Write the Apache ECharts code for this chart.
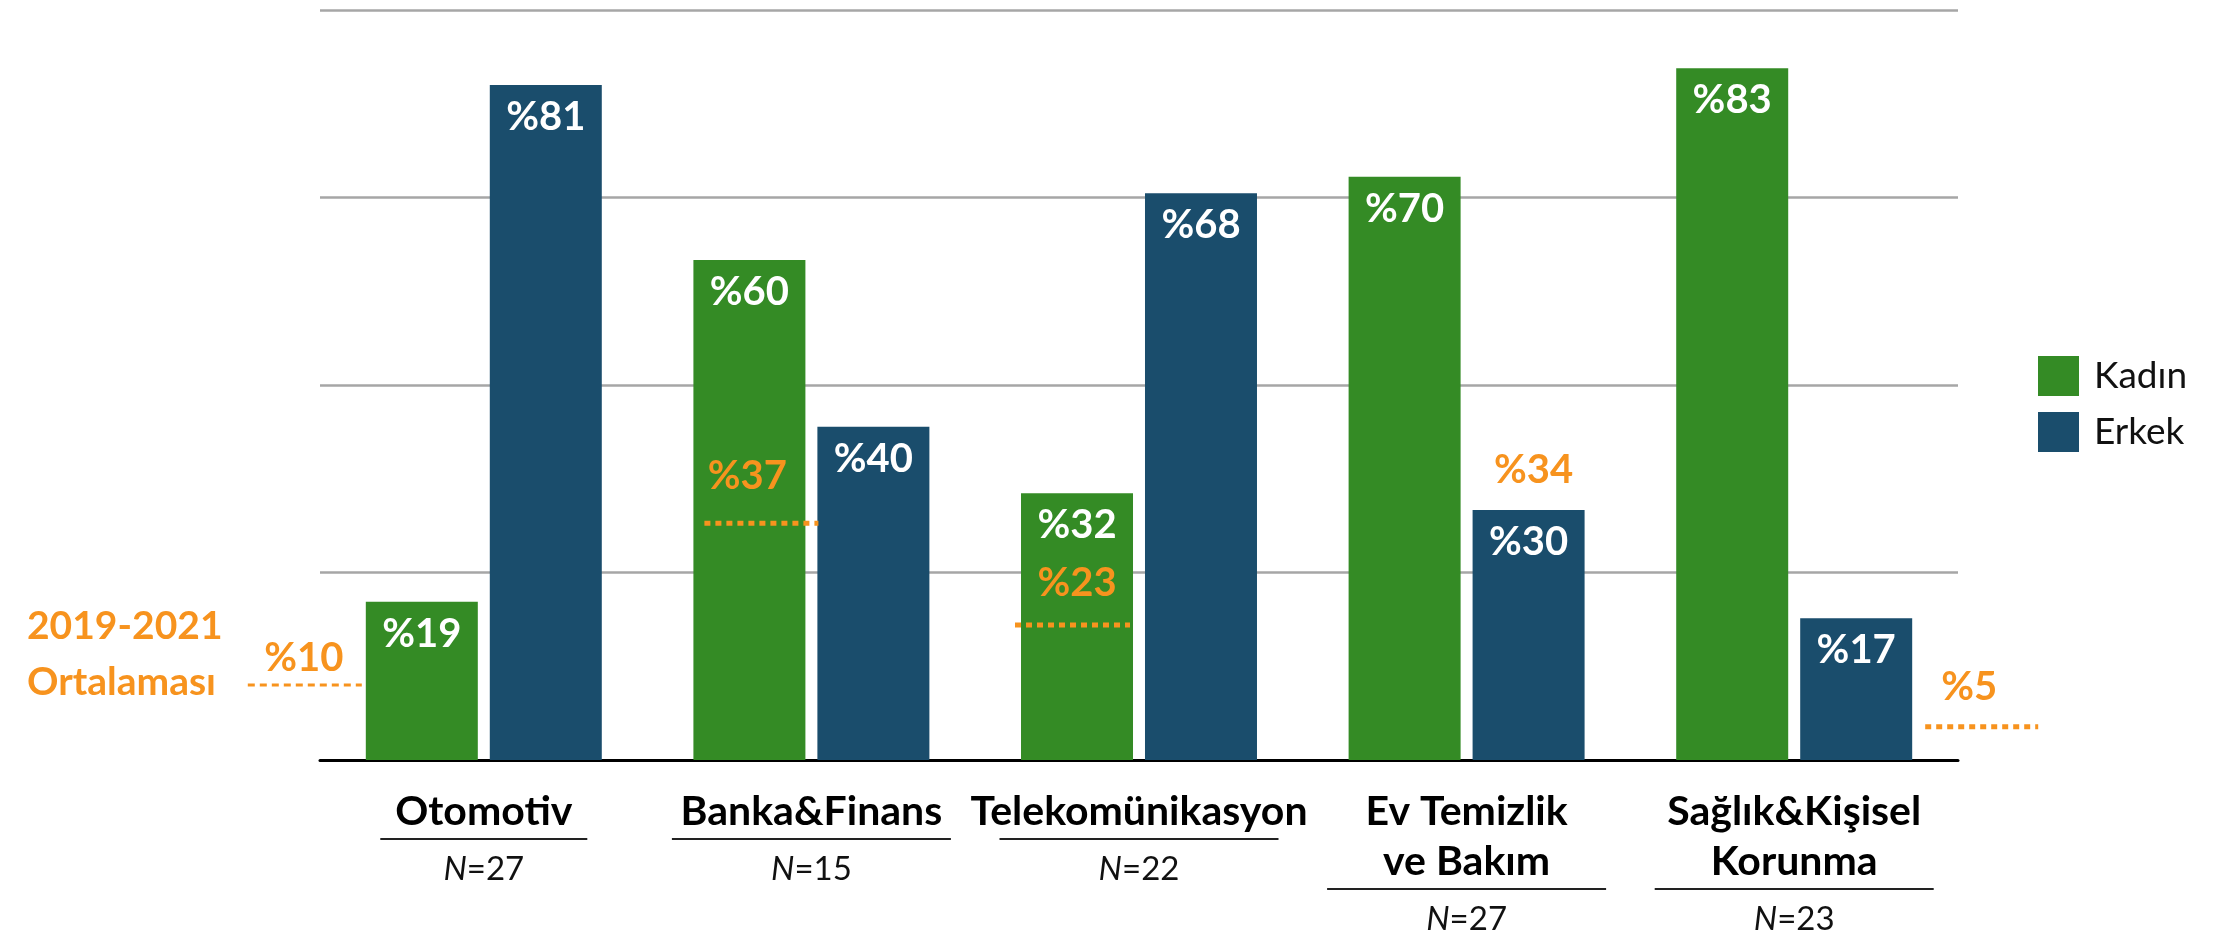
<!DOCTYPE html>
<html><head><meta charset="utf-8">
<script src="https://cdn.jsdelivr.net/npm/echarts@6/dist/echarts.min.js"></script>
<style>html,body{margin:0;padding:0;background:#fff}#c{width:2222px;height:937px}</style>
</head><body><div id="c"></div>
<script>
// ---------- data ----------
const categories = ['Otomotiv', 'Banka&Finans', 'Telekomünikasyon', 'Ev Temizlik\nve Bakım', 'Sağlık&Kişisel\nKorunma'];
const sampleN = [27, 15, 22, 27, 23];
const seriesNames = ['Kadın', 'Erkek'];
const kadin = [19, 60, 32, 70, 83];
const erkek = [81, 40, 68, 30, 17];
const avgTitle = '2019-2021\nOrtalaması';
const avgValues = [10, 37, 23, 34, 5];
// level (axis units) at which each average marker is drawn in the reference
const avgLevel = [9.0, 28.4, 16.2, 30, 4.0];
const avgHasLine = [true, true, true, false, true];

// ---------- layout / style ----------
const GREEN = '#348B25', BLUE = '#1A4D6C', ORANGE = '#F7931E';
const FONT = 'Lato';
const avgLayout = [
  { x0: -236, x1: -122, lx: -180, ly: 27, w: 3, dash: [7, 5] },
  { x0: -107, x1: 7, lx: -64, ly: 47, w: 5, dash: [6, 5] },
  { x0: -124, x1: -9, lx: -62, ly: 42, w: 5, dash: [6, 5] },
  { x0: 0, x1: 0, lx: 67, ly: 40, w: 5, dash: [6, 5] },
  { x0: 131, x1: 244, lx: 175, ly: 40, w: 5, dash: [6, 5] }
];
const underlineWidth = [207, 279, 279, 279, 279];

const chart = echarts.init(document.getElementById('c'), null, { renderer: 'canvas' });

const ulStyles = {};
underlineWidth.forEach((w, i) => {
  ulStyles['ul' + i] = { width: w, height: 2, lineHeight: 4, fontSize: 2, backgroundColor: '#222', align: 'center' };
});

chart.setOption({
  backgroundColor: '#fff',
  animation: false,
  title: {
    text: avgTitle, left: 22, top: 593,
    textStyle: { color: ORANGE, fontFamily: FONT, fontWeight: 'bold', fontSize: 39, lineHeight: 56 }
  },
  legend: {
    data: seriesNames, orient: 'vertical', left: 2033, top: 351,
    icon: 'rect', itemWidth: 41, itemHeight: 40, itemGap: 16,
    textStyle: { fontFamily: FONT, fontSize: 37, color: '#111', padding: [0, 0, 0, 10] }
  },
  grid: { left: 320, right: 2222 - 1958, top: 10, bottom: 937 - 760, containLabel: false },
  xAxis: {
    type: 'category', data: categories,
    axisLine: { lineStyle: { color: '#000', width: 3 } },
    axisTick: { show: false },
    axisLabel: {
      interval: 0, margin: 27, hideOverlap: false,
      formatter: function (v, i) {
        const lines = v.split('\n').map(s => '{cat|' + s + '}').join('\n');
        return lines + '\n{ul' + i + '| }\n{ni|N}{nv|=' + sampleN[i] + '}';
      },
      rich: Object.assign({
        cat: { fontFamily: FONT, fontWeight: 'bold', fontSize: 41, color: '#000', lineHeight: 50, align: 'center' },
        ni: { fontFamily: FONT, fontStyle: 'italic', fontSize: 33, color: '#111', lineHeight: 56 },
        nv: { fontFamily: FONT, fontSize: 33, color: '#111', lineHeight: 56 }
      }, ulStyles)
    }
  },
  yAxis: {
    type: 'value', min: 0, max: 90, interval: 22.5,
    axisLine: { show: false }, axisTick: { show: false }, axisLabel: { show: false },
    splitLine: { lineStyle: { color: '#A6A6A6', width: 2.5 } }
  },
  series: [
    {
      name: seriesNames[0], type: 'bar', data: kadin, barWidth: 112, barGap: '10.7%',
      itemStyle: { color: GREEN },
      label: { show: true, position: 'insideTop', distance: 12, color: '#fff', fontFamily: FONT, fontWeight: 'bold', fontSize: 40, formatter: p => '%' + p.value }
    },
    {
      name: seriesNames[1], type: 'bar', data: erkek, barWidth: 112, barGap: '10.7%',
      itemStyle: { color: BLUE },
      label: { show: true, position: 'insideTop', distance: 12, color: '#fff', fontFamily: FONT, fontWeight: 'bold', fontSize: 40, formatter: p => '%' + p.value }
    },
    {
      name: 'avg', type: 'custom', clip: false, z: 10,
      data: categories.map((c, i) => [i, avgLevel[i]]),
      renderItem: function (params, api) {
        const i = params.dataIndex;
        const p = api.coord([api.value(0), api.value(1)]);
        const L = avgLayout[i];
        const children = [];
        if (avgHasLine[i]) {
          children.push({ type: 'line', shape: { x1: p[0] + L.x0, y1: p[1], x2: p[0] + L.x1, y2: p[1] },
            style: { stroke: ORANGE, lineWidth: L.w, lineDash: L.dash } });
        }
        children.push({ type: 'text', style: { text: '%' + avgValues[i], x: p[0] + L.lx, y: p[1] - L.ly,
          align: 'center', verticalAlign: 'middle', fill: ORANGE, fontFamily: FONT, fontWeight: 'bold', fontSize: 40 } });
        return { type: 'group', children: children };
      }
    }
  ]
});
</script></body></html>
